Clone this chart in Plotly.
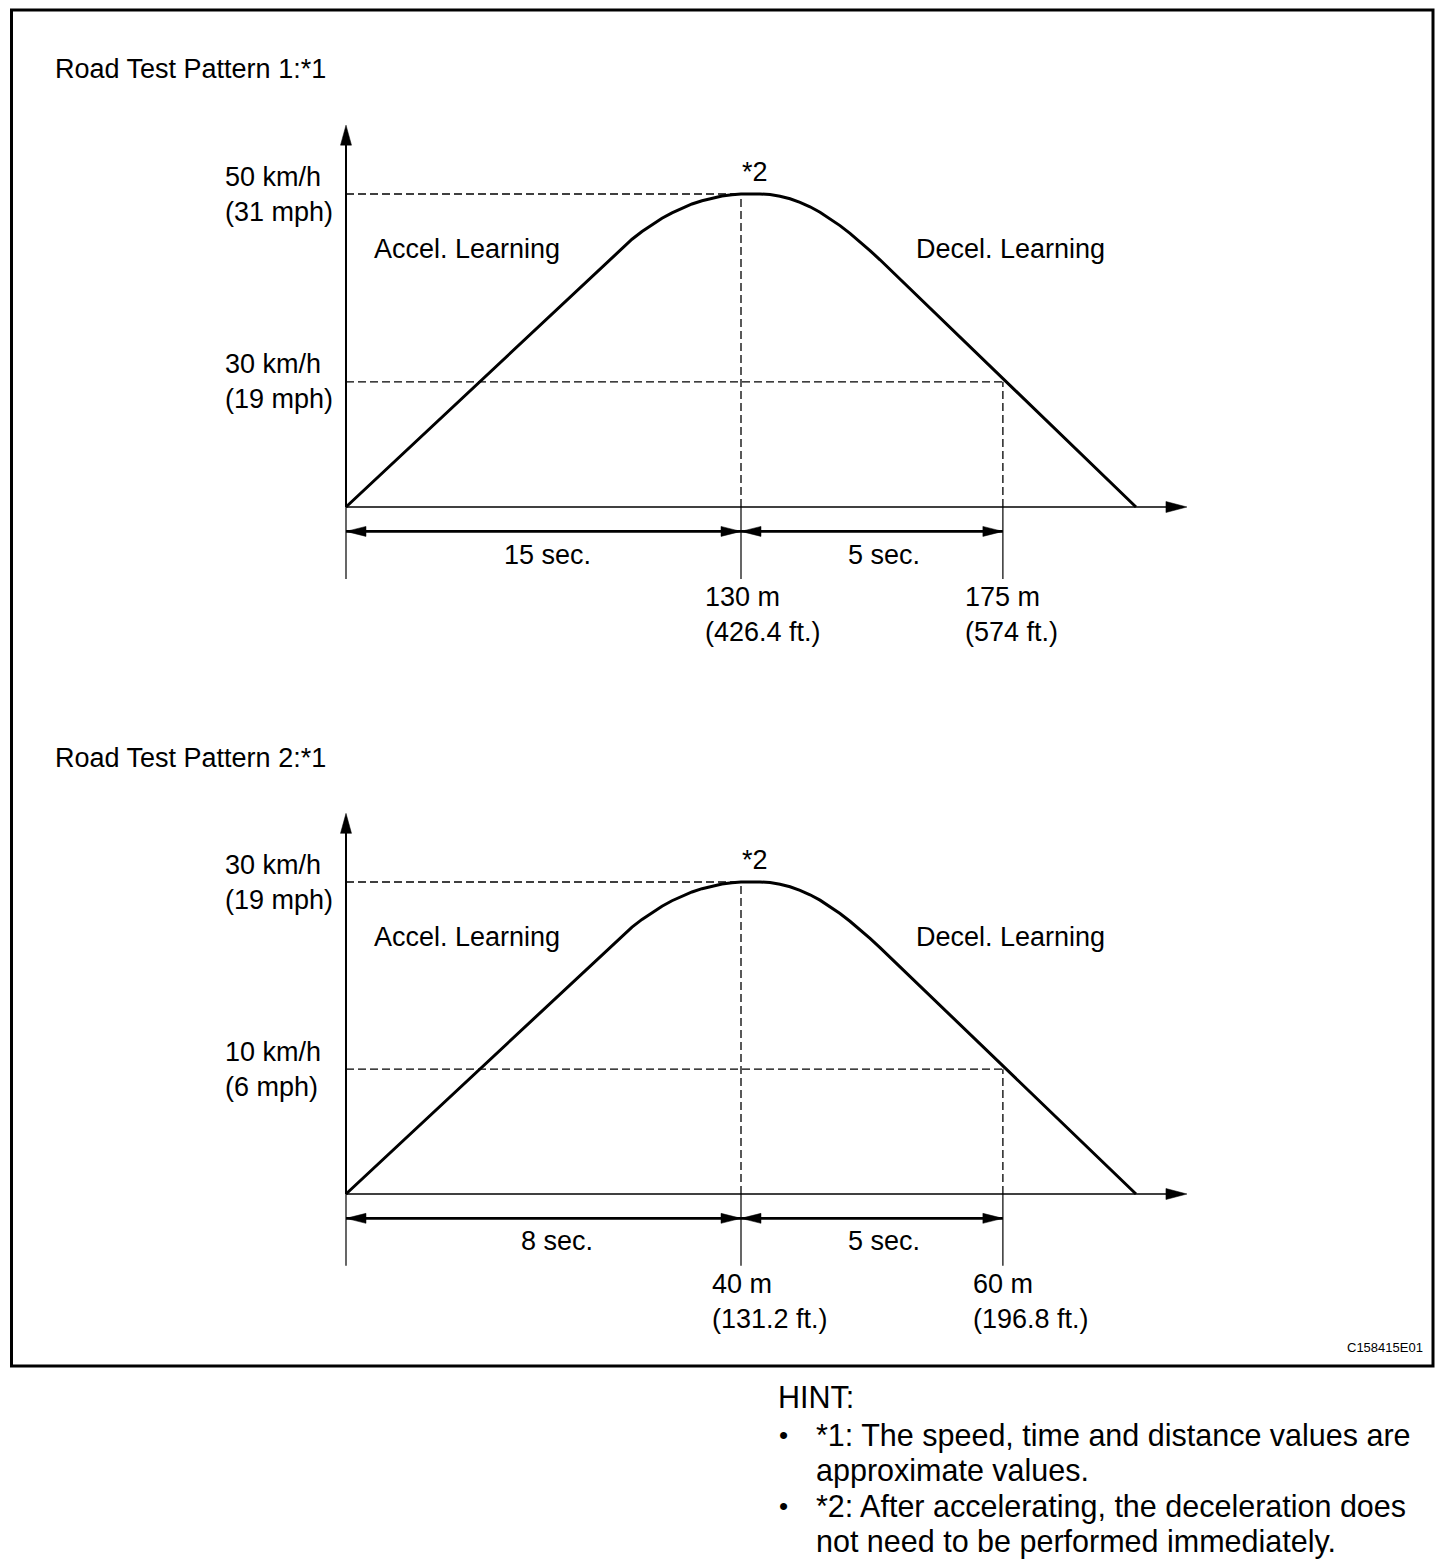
import plotly.graph_objects as go

# ---------------- data (schematic units: origin = 0, peak = 100) ----------------
curve_x = [0, 67.34, 69.87, 72.41, 74.94, 77.47, 80.00, 82.53, 85.06, 87.59, 90.13,
           92.66, 95.19, 97.72, 100, 104.81, 107.34, 109.87, 112.41, 114.94, 117.47,
           120.00, 122.53, 125.06, 127.59, 130.13, 132.66, 135.19, 200]
curve_y = [0, 79.87, 82.81, 85.56, 88.02, 90.26, 92.24, 93.99, 95.53, 96.81, 97.86,
           98.72, 99.36, 99.78, 100, 100, 99.81, 99.30, 98.47, 97.35, 95.91,
           94.19, 92.17, 89.90, 87.41, 84.73, 81.92, 78.98, 0]

panel_titles = ["Road Test Pattern 1:*1", "Road Test Pattern 2:*1"]
high_speed_labels = ["50 km/h<br>(31 mph)", "30 km/h<br>(19 mph)"]
low_speed_labels = ["30 km/h<br>(19 mph)", "10 km/h<br>(6 mph)"]
accel_times = ["15 sec.", "8 sec."]
decel_times = ["5 sec.", "5 sec."]
peak_dist_labels = ["130 m<br>(426.4 ft.)", "40 m<br>(131.2 ft.)"]
decel_dist_labels = ["175 m<br>(574 ft.)", "60 m<br>(196.8 ft.)"]
phase_labels = ["Accel. Learning", "Decel. Learning"]
peak_note = "*2"
code_label = "C158415E01"
hint_title = "HINT:"
hint_lines = ["*1: The speed, time and distance values are",
              "approximate values.",
              "*2: After accelerating, the deceleration does",
              "not need to be performed immediately."]
hint_bullets = [True, False, True, False]

peak_x = 100
peak_level = 100
low_level = 40
decel_mark_x = 166.3
axis_x_end = 212.9
axis_y_end = 122
dim_y = -7.8
ext_bottom = -23

# ---------------- layout / style constants ----------------
W, H = 1456, 1566
FONT = "Liberation Sans, Arial, Helvetica, sans-serif"
FS = 27
X0_PX, XS = 346, 3.95
PANELS = [dict(yref="y", base=507, ys=3.13), dict(yref="y2", base=1194, ys=3.12)]

title_x = -74.2
title_y = 139.8
speed_label_x = -31.2
accel_label_x = 6.6
decel_label_x = 143.8
phase_label_y = 82.4
note_x, note_y = 103.5, 107
accel_time_x = [51.1, 53.4]
decel_time_x = [136.2, 136.2]
time_y = -15.2
peak_dist_x = [90.4, 92.2]
decel_dist_x = [156.2, 158.2]
dist_y = -34.3

fig = go.Figure()
shapes = []
annos = []

def ann(text, x, y, yref, xanchor="left", size=FS, align="left", xref="x"):
    annos.append(dict(text=text, x=x, y=y, xref=xref, yref=yref, showarrow=False,
                      xanchor=xanchor, yanchor="middle", align=align,
                      font=dict(family=FONT, size=size, color="black")))

def line(x0, y0, x1, y1, yref, width=1.3, dash="solid"):
    shapes.append(dict(type="line", x0=x0, y0=y0, x1=x1, y1=y1, xref="x", yref=yref,
                       line=dict(color="black", width=width, dash=dash)))

def head(x, y, yref, path):
    shapes.append(dict(type="path", xref="x", yref=yref, xsizemode="pixel",
                       ysizemode="pixel", xanchor=x, yanchor=y, path=path,
                       fillcolor="black", line=dict(color="black", width=0.5)))

LEFT = "M0,0 L20,5 L20,-5 Z"
RIGHT = "M0,0 L-20,5 L-20,-5 Z"
UP = "M0,0 L5.5,-20 L-5.5,-20 Z"
XRIGHT = "M0,0 L-21,5.5 L-21,-5.5 Z"
DASH = "8px,4px"

for i, p in enumerate(PANELS):
    yr = p["yref"]
    fig.add_trace(go.Scatter(x=curve_x, y=curve_y, mode="lines", yaxis=yr,
                             line=dict(color="black", width=3),
                             hoverinfo="skip", showlegend=False))
    # axes
    line(0, 0, 0, axis_y_end - 3, yr, width=2)
    head(0, axis_y_end, yr, UP)
    line(0, 0, axis_x_end - 2, 0, yr, width=1.5)
    head(axis_x_end, 0, yr, XRIGHT)
    # dashed guides
    line(0, peak_level, peak_x, peak_level, yr, dash=DASH)
    line(0, low_level, decel_mark_x, low_level, yr, dash=DASH)
    line(peak_x, 0, peak_x, peak_level, yr, dash=DASH)
    line(decel_mark_x, 0, decel_mark_x, low_level, yr, dash=DASH)
    # extension lines
    for xx in (0, peak_x, decel_mark_x):
        line(xx, 0, xx, ext_bottom, yr, width=1.2)
    # dimension lines
    line(0, dim_y, peak_x, dim_y, yr, width=2.6)
    line(peak_x, dim_y, decel_mark_x, dim_y, yr, width=2.6)
    head(0, dim_y, yr, LEFT)
    head(peak_x, dim_y, yr, RIGHT)
    head(peak_x, dim_y, yr, LEFT)
    head(decel_mark_x, dim_y, yr, RIGHT)
    # texts
    ann(panel_titles[i], title_x, title_y, yr)
    ann(high_speed_labels[i], speed_label_x, peak_level, yr)
    ann(low_speed_labels[i], speed_label_x, low_level, yr)
    ann(phase_labels[0], accel_label_x, phase_label_y, yr)
    ann(phase_labels[1], decel_label_x, phase_label_y, yr)
    ann(peak_note, note_x, note_y, yr, xanchor="center")
    ann(accel_times[i], accel_time_x[i], time_y, yr, xanchor="center")
    ann(decel_times[i], decel_time_x[i], time_y, yr, xanchor="center")
    ann(peak_dist_labels[i], peak_dist_x[i], dist_y, yr)
    ann(decel_dist_labels[i], decel_dist_x[i], dist_y, yr)

# frame
shapes.append(dict(type="rect", xref="paper", yref="paper",
                   x0=11.5 / W, x1=1433 / W, y0=1 - 1366 / H, y1=1 - 10 / H,
                   line=dict(color="black", width=3), fillcolor="rgba(0,0,0,0)"))
annos.append(dict(text=code_label, x=1425 / W, y=1 - 1347 / H, xref="paper", yref="paper",
                  showarrow=False, xanchor="right", yanchor="middle",
                  font=dict(family=FONT, size=13, color="black")))

# hint block
HFS = 30.5
annos.append(dict(text=hint_title, x=776 / W, y=1 - 1397 / H, xref="paper", yref="paper",
                  showarrow=False, xanchor="left", yanchor="middle",
                  font=dict(family=FONT, size=HFS, color="black")))
hint_y = [1435, 1470, 1506, 1541]
for txt, b, yy in zip(hint_lines, hint_bullets, hint_y):
    annos.append(dict(text=txt, x=814 / W, y=1 - yy / H, xref="paper", yref="paper",
                      showarrow=False, xanchor="left", yanchor="middle",
                      font=dict(family=FONT, size=HFS, color="black")))
    if b:
        annos.append(dict(text="•", x=783 / W, y=1 - yy / H, xref="paper", yref="paper",
                          showarrow=False, xanchor="center", yanchor="middle",
                          font=dict(family=FONT, size=26, color="black")))

ax_common = dict(visible=False, showgrid=False, zeroline=False, fixedrange=True)
fig.update_layout(
    width=W, height=H, margin=dict(l=0, r=0, t=0, b=0, pad=0),
    paper_bgcolor="white", plot_bgcolor="white", showlegend=False, hovermode=False,
    xaxis=dict(range=[-X0_PX / XS, (W - X0_PX) / XS], domain=[0, 1], **ax_common),
    yaxis=dict(range=[(PANELS[0]["base"] - H) / PANELS[0]["ys"], PANELS[0]["base"] / PANELS[0]["ys"]],
               domain=[0, 1], **ax_common),
    yaxis2=dict(range=[(PANELS[1]["base"] - H) / PANELS[1]["ys"], PANELS[1]["base"] / PANELS[1]["ys"]],
                domain=[0, 1], overlaying="y", anchor="x", **ax_common),
    shapes=shapes, annotations=annos,
)

fig.write_html("out.html", config={"displayModeBar": False},
               post_script="document.body.style.margin='0';")
